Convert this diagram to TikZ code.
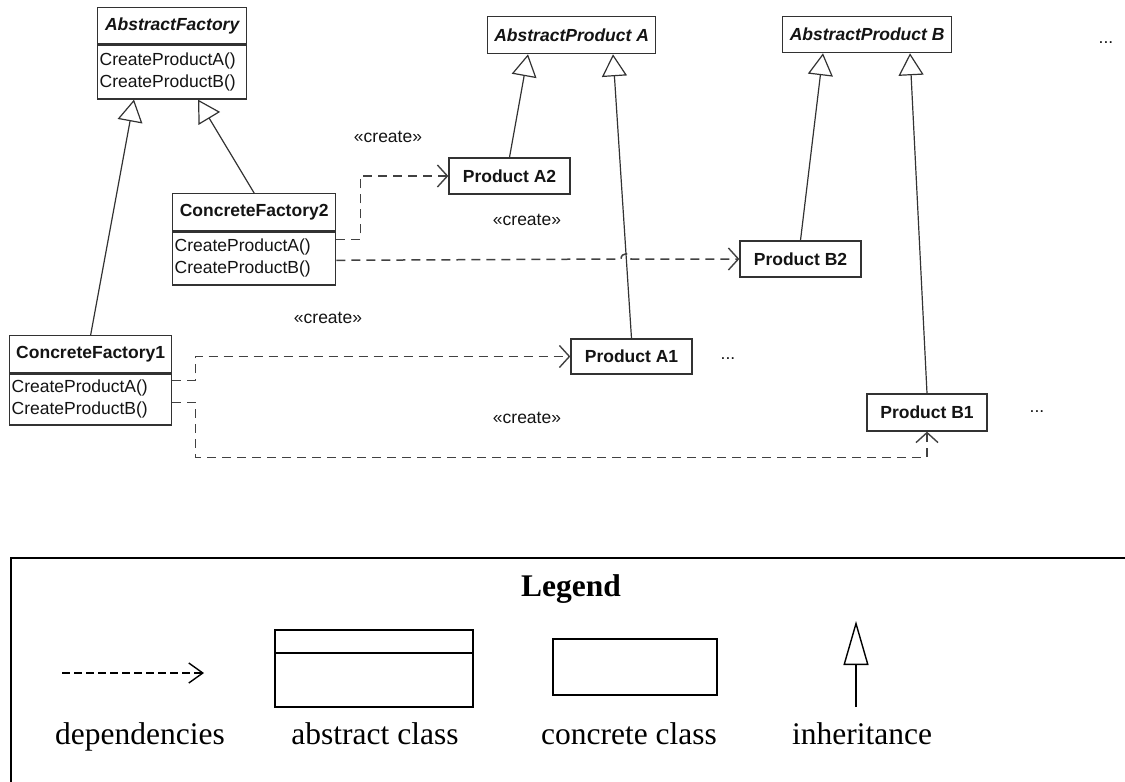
\documentclass[tikz,border=0pt]{standalone}
\usepackage{fontspec}
\setmainfont{Liberation Sans}
\newfontfamily\legendfont{Liberation Serif}
\usetikzlibrary{arrows.meta,calc}

\definecolor{umlline}{RGB}{50,50,50}
\definecolor{umltext}{RGB}{20,20,20}
\definecolor{depline}{RGB}{65,65,65}

\begin{document}
\begin{tikzpicture}[x=1pt,y=-1pt,
  umlfont/.style={font=\fontsize{17.5}{22}\selectfont},
  box/.style={draw=umlline, line width=1.3pt, fill=white, inner sep=0pt,
    text=umltext, umlfont},
  clstitle/.style={box, anchor=north west, font=\fontsize{17.5}{22}\selectfont\bfseries},
  abstitle/.style={box, anchor=north west, font=\fontsize{17.5}{22}\selectfont\bfseries\itshape},
  body/.style={box, anchor=north west, inner xsep=2pt, inner ysep=0pt, align=left},
  product/.style={box, font=\fontsize{17.5}{22}\selectfont\bfseries,
    minimum width=121pt, minimum height=36pt},
  lbl/.style={text=umltext, umlfont, inner sep=0pt},
  inh/.style={draw=umlline, line width=1.2pt,
    -{Triangle[open, length=22pt, width=25pt, line width=1.2pt]}},
  dep/.style={draw=depline, line width=1.5pt, dash pattern=on 9pt off 6pt,
    -{Straight Barb[length=10pt, width=22pt, line width=1.4pt]}},
  legfont/.style={font=\legendfont\fontsize{31.5}{36}\selectfont},
  legbox/.style={draw=black, line width=1.8pt, anchor=north west, inner sep=0pt},
  legdep/.style={draw=black, line width=1.4pt, dash pattern=on 8pt off 4pt,
    -{Straight Barb[length=14pt, width=20pt, line width=1.4pt]}},
  leginh/.style={draw=black, line width=1.4pt,
    -{Triangle[open, length=44pt, width=25pt, line width=1.4pt]}},
]
\useasboundingbox (0,0) rectangle (1125,782);
\clip (0,0) rectangle (1125,782);

% factories
\node[abstitle, minimum width=149pt, minimum height=36pt] (af) at (97,7) {AbstractFactory};
\node[body, text width=145pt, minimum height=54pt] (afm) at (af.south west)
  {CreateProductA()\\CreateProductB()};

\node[clstitle, minimum width=163pt, minimum height=37pt] (cf2) at (172,193) {ConcreteFactory2};
\node[body, text width=159pt, minimum height=53pt] (cf2m) at (cf2.south west)
  {CreateProductA()\\CreateProductB()};

\node[clstitle, minimum width=162pt, minimum height=37pt] (cf1) at (9,335) {ConcreteFactory1};
\node[body, text width=158pt, minimum height=51pt] (cf1m) at (cf1.south west)
  {CreateProductA()\\CreateProductB()};

% abstract products
\node[abstitle, minimum width=168pt, minimum height=37pt] (apa) at (487,16) {AbstractProduct A};
\node[abstitle, minimum width=169pt, minimum height=36pt] (apb) at (782,16) {AbstractProduct B};

% concrete products
\node[product] (pa2) at (509.5,176) {Product A2};
\node[product] (pb2) at (800.5,259) {Product B2};
\node[product, minimum height=35pt] (pa1) at (631.5,356.5) {Product A1};
\node[product, minimum width=120pt, minimum height=37pt] (pb1) at (927,412.5) {Product B1};

% inheritance
\draw[inh] (cf1.north) -- ([xshift=37pt]afm.south west);
\draw[inh] (cf2.north) -- ([xshift=101pt]afm.south west);
\draw[inh] (pa2.north) -- ([xshift=41pt]apa.south west);
\draw[inh] (pa1.north) -- ([xshift=126pt]apa.south west);
\draw[inh] (pb2.north) -- ([xshift=41pt]apb.south west);
\draw[inh] (pb1.north) -- ([xshift=128pt]apb.south west);

% creation dependencies
\draw[dep] ([yshift=-8pt]cf2m.north east) -- ++(24,0) |- (pa2.west);
\draw[dep] ([yshift=-29pt]cf2m.north east) -- (621,259)
  .. controls (621,252) and (631,252) .. (631,259) -- (pb2.west);
\draw[dep] ([yshift=-7pt]cf1m.north east) -- ++(23,0) |- (pa1.west);
\draw[dep] ([yshift=-29pt]cf1m.north east) -- ++(23,0) -- ++(0,55) -| (pb1.south);

% stereotype labels
\node[lbl] (cr1) at (388,137) {«create»};
\node[lbl] (cr2) at (527,220) {«create»};
\node[lbl] (cr3) at (328,318) {«create»};
\node[lbl] (cr4) at (527,418) {«create»};

% ellipses
\node[lbl] (more1) at (1106,43) {...};
\node[lbl] (more2) at (728,359) {...};
\node[lbl] (more3) at (1037,412) {...};

% legend
\node[draw=black, line width=1.8pt, anchor=north west, inner sep=0pt,
  minimum width=1200pt, minimum height=300pt] (legend) at (10,557) {};
\node[font=\legendfont\fontsize{31.5}{36}\selectfont\bfseries, anchor=base]
  (legtitle) at (571,596) {Legend};

\coordinate (depA) at (62,673);
\coordinate (depB) at (204,673);
\draw[legdep] (depA) -- (depB);

\node[legbox, minimum width=198pt, minimum height=77pt] (absBox) at (274,629) {};
\draw[line width=1.8pt] ([yshift=-24pt]absBox.north west) -- ([yshift=-24pt]absBox.north east);

\node[legbox, minimum width=164pt, minimum height=56pt] (conc) at (552,638) {};

\coordinate (inhA) at (856,707);
\coordinate (inhB) at (856,621);
\draw[leginh] (inhA) -- (inhB);

\node[legfont, anchor=base] (l1) at (140,744) {dependencies};
\node[legfont, anchor=base] (l2) at (375,744) {abstract class};
\node[legfont, anchor=base] (l3) at (629,744) {concrete class};
\node[legfont, anchor=base] (l4) at (862,744) {inheritance};
\end{tikzpicture}
\end{document}
